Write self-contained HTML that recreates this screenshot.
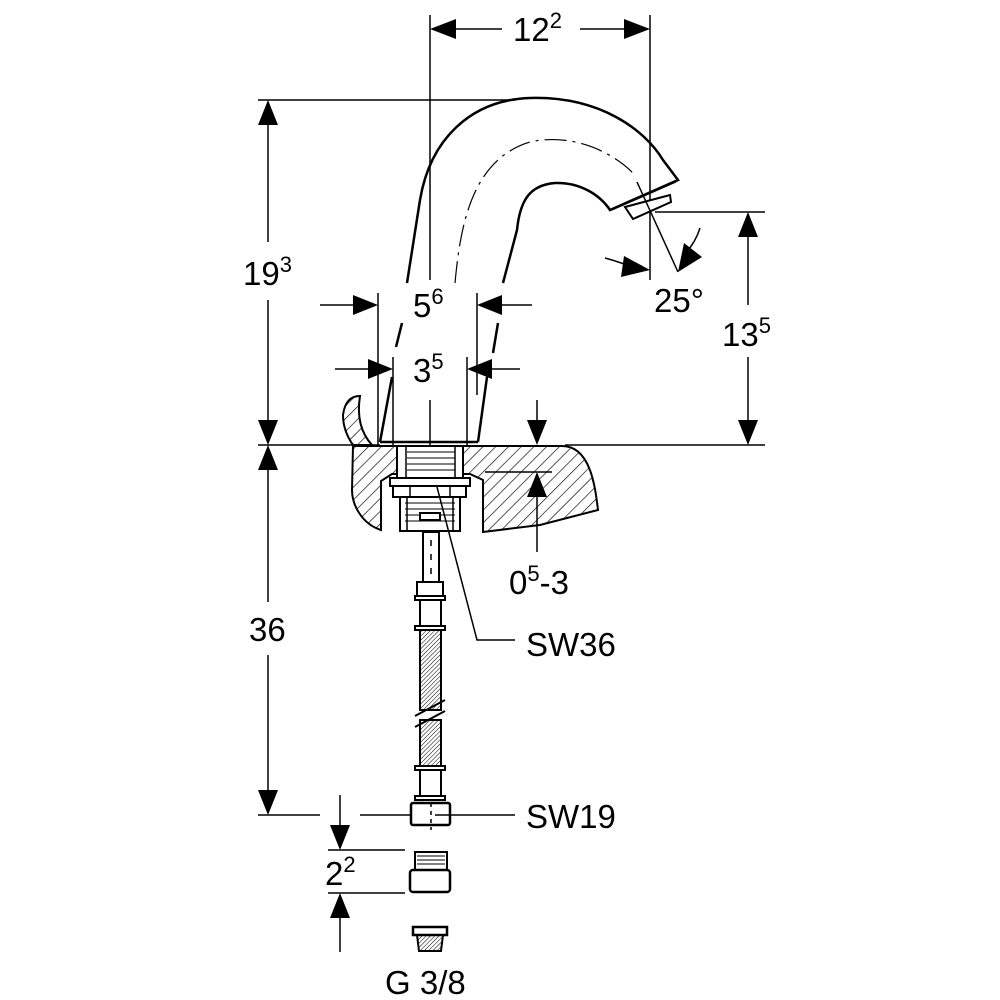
<!DOCTYPE html>
<html><head><meta charset="utf-8"><style>
html,body{margin:0;padding:0;background:#fff}
svg{display:block}
text{font-family:"Liberation Sans",Arial,sans-serif;fill:#000}
</style></head><body>
<svg width="1000" height="1000" viewBox="0 0 1000 1000" xmlns="http://www.w3.org/2000/svg">
<defs>
<pattern id="h" width="9" height="9" patternUnits="userSpaceOnUse" patternTransform="rotate(45)">
<line x1="0" y1="0" x2="0" y2="9" stroke="#000" stroke-width="1.3"/>
</pattern>
<pattern id="m" width="3" height="3" patternUnits="userSpaceOnUse" patternTransform="rotate(45)">
<line x1="0" y1="0" x2="0" y2="3" stroke="#000" stroke-width="1"/>
</pattern>
</defs>
<g stroke="#000" stroke-width="1.5" fill="none">
<line x1="430" y1="15" x2="430" y2="280"/>
<line x1="650" y1="15" x2="650" y2="280"/>
<line x1="455" y1="29" x2="502" y2="29"/>
<line x1="580" y1="29" x2="625" y2="29"/>
<line x1="258" y1="100" x2="515" y2="100"/>
<line x1="258" y1="445" x2="380" y2="445"/>
<line x1="565" y1="445" x2="765" y2="445"/>
<line x1="655" y1="212" x2="765" y2="212"/>
<line x1="258" y1="815" x2="320" y2="815"/>
<line x1="268" y1="120" x2="268" y2="242"/>
<line x1="268" y1="300" x2="268" y2="425"/>
<line x1="268" y1="465" x2="268" y2="602"/>
<line x1="268" y1="655" x2="268" y2="795"/>
<line x1="748" y1="232" x2="748" y2="305"/>
<line x1="748" y1="357" x2="748" y2="425"/>
<line x1="320" y1="305" x2="356" y2="305"/>
<line x1="500" y1="305" x2="532" y2="305"/>
<line x1="335" y1="369" x2="371" y2="369"/>
<line x1="489" y1="369" x2="520" y2="369"/>
<line x1="378" y1="293" x2="378" y2="445"/>
<line x1="477" y1="293" x2="477" y2="395"/>
<line x1="393" y1="357" x2="393" y2="445"/>
<line x1="467" y1="357" x2="467" y2="445"/>
<line x1="430" y1="400" x2="430" y2="470"/>
<path d="M407,283 L420,200 C430,140 470,100 530,98 C600,96 645,130 663,160 L678,180 L610,210 C600,195 580,182 555,183 C530,185 520,200 517,230 L503,283" stroke-width="2.5"/>
<path d="M612,210 L676,182" stroke-width="1.2"/>
<path d="M625,207 L670,195 L671,202 L633,219 Z" stroke-width="2" fill="#fff"/>
<path d="M455,283 C460,230 470,160 530,142 C570,133 610,150 633,173" stroke-width="1.2" stroke-dasharray="22,6,3,6"/>
<line x1="402" y1="323" x2="396" y2="347" stroke-width="2.5"/>
<line x1="392" y1="377" x2="380" y2="442" stroke-width="2.5"/>
<line x1="498" y1="323" x2="493" y2="353" stroke-width="2.5"/>
<line x1="487" y1="377" x2="478" y2="442" stroke-width="2.5"/>
<line x1="380" y1="442" x2="478" y2="442" stroke-width="2.5"/>
<line x1="637" y1="182" x2="678" y2="272"/>
<path d="M605,258 C620,262 630,266 640,270"/>
<path d="M700,228 C697,238 692,246 685,254"/>
<path d="M353,446 L562,446 C590,446 595,485 598,510 L540,525 L483,532 L483,480 L470,474 L392,474 L381,481 L381,530 C362,524 352,505 352,490 Z" fill="url(#h)" stroke-width="2"/>
<path d="M343,415 C345,400 352,396 360,396 C357,415 360,432 372,445 L353,445 C346,435 343,425 343,415 Z" fill="url(#h)" stroke-width="2"/>
<line x1="485" y1="472" x2="552" y2="472"/>
<rect x="397" y="446" width="66" height="32" fill="#fff" stroke-width="2"/>
<g stroke-width="1">
<line x1="407" y1="452" x2="455" y2="452"/><line x1="407" y1="458" x2="455" y2="458"/><line x1="407" y1="464" x2="455" y2="464"/><line x1="407" y1="470" x2="455" y2="470"/>
</g>
<line x1="406" y1="446" x2="406" y2="478"/><line x1="455" y1="446" x2="455" y2="478"/>
<rect x="390" y="478" width="80" height="8" fill="#fff" stroke-width="2"/>
<rect x="393" y="486" width="73" height="11" fill="#fff" stroke-width="2"/>
<line x1="410" y1="486" x2="410" y2="497"/><line x1="450" y1="486" x2="450" y2="497"/>
<rect x="400" y="497" width="60" height="34" fill="#fff" stroke-width="2"/>
<g stroke-width="1">
<line x1="405" y1="503" x2="455" y2="503"/><line x1="405" y1="509" x2="455" y2="509"/><line x1="405" y1="515" x2="455" y2="515"/><line x1="405" y1="521" x2="455" y2="521"/>
</g>
<rect x="420" y="513" width="20" height="7" fill="#fff" stroke-width="2"/>
<line x1="407" y1="497" x2="407" y2="531"/><line x1="453" y1="497" x2="453" y2="531"/>
<rect x="423" y="532" width="16" height="50" fill="#fff" stroke-width="2"/>
<line x1="431" y1="540" x2="431" y2="575" stroke-dasharray="6,8"/>
<rect x="417" y="582" width="26" height="14" fill="#fff" stroke-width="2"/>
<rect x="415" y="596" width="30" height="4" fill="#fff" stroke-width="2"/>
<rect x="420" y="600" width="21" height="26" fill="#fff" stroke-width="2"/>
<rect x="415" y="626" width="30" height="4" fill="#fff" stroke-width="2"/>
<rect x="420" y="630" width="21" height="80" fill="url(#m)" stroke-width="2"/>
<path d="M415,716 L445,700 M415,727 L445,711" stroke-width="2"/>
<rect x="420" y="720" width="21" height="46" fill="url(#m)" stroke-width="2"/>
<rect x="415" y="766" width="30" height="4" fill="#fff" stroke-width="2"/>
<rect x="420" y="770" width="21" height="26" fill="#fff" stroke-width="2"/>
<rect x="415" y="796" width="30" height="4" fill="#fff" stroke-width="2"/>
<rect x="411" y="803" width="39" height="22" rx="2" fill="#fff" stroke-width="2.5"/>
<line x1="431" y1="803" x2="431" y2="830" stroke-dasharray="4,4"/>
<rect x="415" y="852" width="32" height="18" fill="#fff" stroke-width="2"/>
<g stroke-width="1"><line x1="417" y1="856" x2="445" y2="856"/><line x1="417" y1="860" x2="445" y2="860"/><line x1="417" y1="864" x2="445" y2="864"/></g>
<rect x="410" y="870" width="40" height="22" rx="3" fill="#fff" stroke-width="2.5"/>
<rect x="413" y="927" width="34" height="8" fill="#fff" stroke-width="2.5"/>
<path d="M417,935 L443,935 L441,951 L419,951 Z" fill="url(#m)" stroke-width="2"/>
<path d="M437,487 L477,640 L515,640"/>
<line x1="360" y1="815" x2="410" y2="815"/>
<line x1="435" y1="815" x2="515" y2="815"/>
<line x1="537" y1="400" x2="537" y2="422"/>
<line x1="537" y1="496" x2="537" y2="552"/>
<line x1="340" y1="795" x2="340" y2="826"/>
<line x1="328" y1="850" x2="405" y2="850"/>
<line x1="328" y1="893" x2="405" y2="893"/>
<line x1="340" y1="917" x2="340" y2="952"/>
</g>
<g fill="#000">
<polygon points="430,29 456,19 456,39"/>
<polygon points="650,29 624,19 624,39"/>
<polygon points="268,100 258,125 278,125"/>
<polygon points="268,445 258,420 278,420"/>
<polygon points="268,445 258,470 278,470"/>
<polygon points="268,815 258,790 278,790"/>
<polygon points="748,212 738,237 758,237"/>
<polygon points="748,445 738,420 758,420"/>
<polygon points="378,305 353,295 353,315"/>
<polygon points="477,305 502,295 502,315"/>
<polygon points="393,369 368,359 368,379"/>
<polygon points="467,369 492,359 492,379"/>
<polygon points="537,445 527,420 547,420"/>
<polygon points="537,472 527,497 547,497"/>
<polygon points="340,850 330,825 350,825"/>
<polygon points="340,893 330,918 350,918"/>
<polygon points="650,270 624,256 621,277"/>
<polygon points="678,272 684,243 702,257"/>
</g>
<g font-size="33">
<text x="513" y="41">12<tspan font-size="22" dy="-13">2</tspan></text>
<text x="243" y="285">19<tspan font-size="22" dy="-13">3</tspan></text>
<text x="413" y="317">5<tspan font-size="22" dy="-13">6</tspan></text>
<text x="413" y="382">3<tspan font-size="22" dy="-13">5</tspan></text>
<text x="654" y="312">25°</text>
<text x="722" y="346">13<tspan font-size="22" dy="-13">5</tspan></text>
<text x="509" y="594">0<tspan font-size="22" dy="-13">5</tspan><tspan dy="13">-3</tspan></text>
<text x="526" y="656">SW36</text>
<text x="249" y="641">36</text>
<text x="526" y="828">SW19</text>
<text x="325" y="885">2<tspan font-size="22" dy="-13">2</tspan></text>
<text x="385" y="994">G 3/8</text>
</g>
</svg>
</body></html>
